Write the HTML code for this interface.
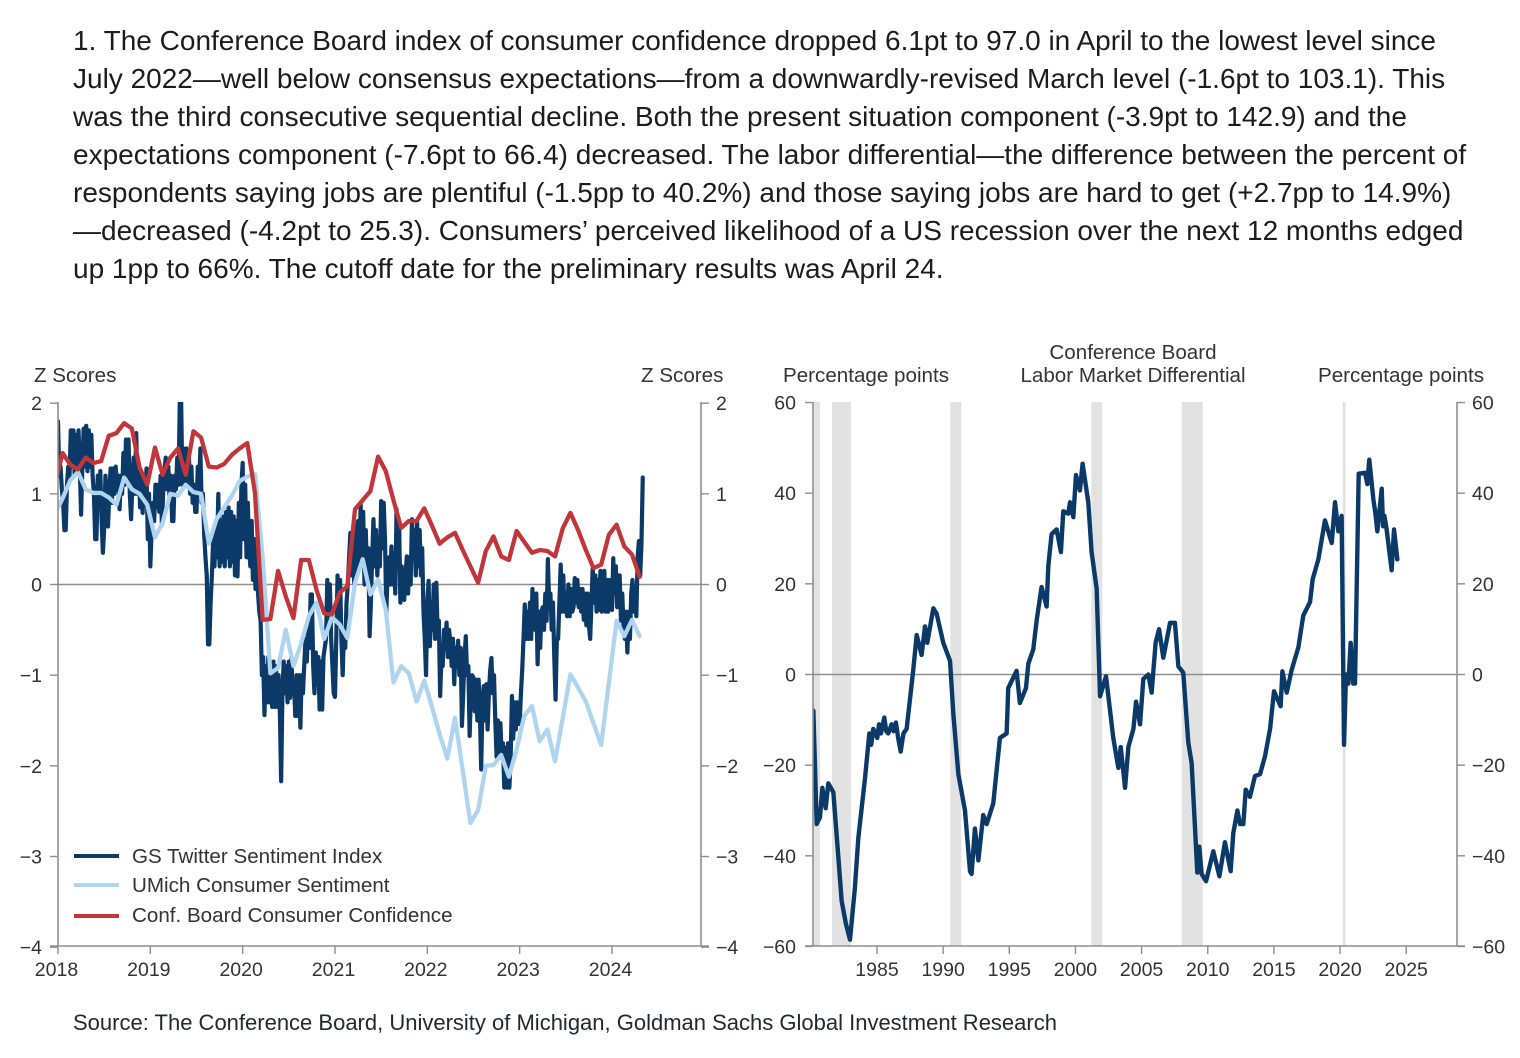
<!DOCTYPE html>
<html lang="en">
<head>
<meta charset="utf-8">
<title>Consumer confidence charts</title>
<style>
html,body{margin:0;padding:0;background:#fff;}
#page{position:relative;width:1520px;height:1058px;overflow:hidden;background:#fff;font-family:"Liberation Sans",sans-serif;}
.para{position:absolute;left:73px;white-space:nowrap;font-size:28px;line-height:38px;height:38px;color:#1c1c1e;}
#source{position:absolute;left:73px;top:1010px;white-space:nowrap;font-size:22px;line-height:26px;color:#24282d;}
#charts{position:absolute;left:0;top:0;}
svg text{font-family:"Liberation Sans",sans-serif;font-size:19.5px;fill:#333;}
svg text.title{font-size:20.6px;}
</style>
</head>
<body>
<div id="page">
  <div class="para" style="top:22px">1. The Conference Board index of consumer confidence dropped 6.1pt to 97.0 in April to the lowest level since</div>
  <div class="para" style="top:60px">July 2022—well below consensus expectations—from a downwardly-revised March level (-1.6pt to 103.1). This</div>
  <div class="para" style="top:98px">was the third consecutive sequential decline. Both the present situation component (-3.9pt to 142.9) and the</div>
  <div class="para" style="top:136px">expectations component (-7.6pt to 66.4) decreased. The labor differential—the difference between the percent of</div>
  <div class="para" style="top:174px">respondents saying jobs are plentiful (-1.5pp to 40.2%) and those saying jobs are hard to get (+2.7pp to 14.9%)</div>
  <div class="para" style="top:212px">—decreased (-4.2pt to 25.3). Consumers’ perceived likelihood of a US recession over the next 12 months edged</div>
  <div class="para" style="top:250px">up 1pp to 66%. The cutoff date for the preliminary results was April 24.</div>

  <svg id="charts" width="1520" height="1058" viewBox="0 0 1520 1058" xmlns="http://www.w3.org/2000/svg">
    <defs>
      <clipPath id="clip-left"><rect x="58" y="402" width="643" height="544"/></clipPath>
      <clipPath id="clip-right"><rect x="813" y="402" width="644" height="544"/></clipPath>
    </defs>
    <g id="left-chart">
      <text class="title" x="34" y="382">Z Scores</text>
      <text class="title" x="641" y="382">Z Scores</text>
    </g>
    <g id="right-chart">
      <text class="title" x="866" y="382" text-anchor="middle">Percentage points</text>
      <text class="title" x="1133" y="359" text-anchor="middle">Conference Board</text>
      <text class="title" x="1133" y="382" text-anchor="middle">Labor Market Differential</text>
      <text class="title" x="1401" y="382" text-anchor="middle">Percentage points</text>
    </g>
    <g id="legend">
      <line x1="74" x2="119" y1="856" y2="856" stroke="#0b3a68" stroke-width="4"/>
      <text class="title" x="132" y="863">GS Twitter Sentiment Index</text>
      <line x1="74" x2="119" y1="885" y2="885" stroke="#aed4f0" stroke-width="4"/>
      <text class="title" x="132" y="892">UMich Consumer Sentiment</text>
      <line x1="74" x2="119" y1="916" y2="916" stroke="#c0363a" stroke-width="4"/>
      <text class="title" x="132" y="922">Conf. Board Consumer Confidence</text>
    </g>
  </svg>

  <div id="source">Source: The Conference Board, University of Michigan, Goldman Sachs Global Investment Research</div>
</div>

<script>
const zScoreTicks = [2, 1, 0, -1, -2, -3, -4];
const sentimentYearTicks = [2018, 2019, 2020, 2021, 2022, 2023, 2024];
const pointTicks = [60, 40, 20, 0, -20, -40, -60];
const differentialYearTicks = [1985, 1990, 1995, 2000, 2005, 2010, 2015, 2020, 2025];

// GS Twitter index: six readings per month from Jan 2018
const twitterValues = [
  1.8,1.2,1.3,1.05,.9,.6, .6,1.1,1.3,1.2,1.7,1.3, 1.7,1.2,1.65,1.25,1.7,1.3,
  .77,1.3,1.72,1.3,1.75,1.25, 1.7,1.3,1.65,1.2,1.0,.5, .5,1.2,.9,1.25,.7,.35,
  .6,1.2,.95,.64,1.0,1.28, .9,1.28,1.0,1.3,1.05,1.2, .83,1.2,1.0,1.45,1.1,1.6,
  1.2,1.6,1.0,.72,1.1,1.4, 1.0,1.67,1.0,1.3,.85,1.2, .79,1.2,.9,1.28,.5,1.0,
  .2,.6,.9,.7,1.1,.85, 1.1,.8,1.2,.66,1.0,1.25, 1.4,1.05,1.3,.95,1.2,.7,
  .7,1.2,1.05,1.4,1.1,2.05, 2.05,1.1,1.5,1.1,1.5,1.1, 1.45,1.0,1.3,.9,1.1,.8,
  .8,1.3,1.0,1.5,.9,1.0, .55,.3,.1,-.66,-.66,-.2, .1,.5,.2,.6,.3,1.0,
  .2,.7,.25,.75,.2,.8, .3,.85,.2,.8,.25,.75, .1,.7,.09,.9,.3,1.1,
  1.34,.5,1.1,.3,.9,.4, .2,.7,.05,.5,-.05,.3, -.1,-.3,-.4,-1.0,-.8,-1.44,
  -.9,-1.3,-.8,-1.3,-1.0,-1.35, -.85,-1.35,-.9,-1.35,-1.0,-1.4, -2.17,-1.2,-.85,-1.2,-.9,-1.3,
  -.85,-1.25,-.8,-1.2,-1.05,-1.45, -1.0,-1.45,-1.0,-1.58,-1.0,-1.2, -.9,-.6,-.85,-.5,-.7,-.11,
  -.11,-.9,-1.2,-.75,-1.1,-.8, -1.38,-.85,-1.38,-.8,-.7,-.6, .05,-.5,0,-.6,-.9,-1.2,
  -1.24,-.6,.1,-.4,.05,-.6, -1.0,-.5,-.7,-.2,0,.3, .57,.1,.5,0,.65,.1,
  .7,.2,.88,.3,.8,0, .6,.1,.4,-.57,-.2,.3, .72,.2,.6,.1,.5,.2,
  .92,.4,.9,.5,-.31,.1, .3,0,.42,0,.3,-.1, .83,.2,.7,-.2,.2,-.1,
  -.17,.1,.31,-.1,.3,0, .72,.3,.6,.1,.7,.2, .6,.1,.4,-.3,-.6,-1.0,
  -.2,.04,-.68,-.2,-.5,0, -.6,.02,-.5,-.4,-1.23,-.8, -.9,-.5,-.7,-.42,-.8,-.5,
  -.65,-.9,-.6,-1.1,-.7,-.9, -.62,-1.0,-.7,-1.56,-1.2,-.8, -.57,-1.0,-.9,-1.67,-1.2,-1.0,
  -1.03,-1.4,-1.05,-1.5,-1.05,-1.4, -2.04,-1.3,-1.12,-1.5,-1.1,-1.6, -1.2,-.95,-.81,-1.2,-1.0,-1.5,
  -1.9,-1.5,-1.85,-1.53,-1.9,-1.75, -2.24,-1.8,-2.24,-1.75,-2.24,-1.9, -1.23,-1.7,-1.3,-1.6,-1.3,-1.5,
  -1.54,-1.2,-.94,-.6,-.22,-.6, -.3,-.6,-.2,-.6,-.05,-.4, -.5,-.1,-.88,-.3,-.7,-.3,
  -.25,-.5,-.1,-.4,.28,-.2, -.1,-.5,-.2,-.8,-1.27,-.6, -.6,-.2,.22,-.3,.1,-.3,
  -.1,-.35,0,-.35,-.05,-.3, -.25,.07,-.2,.05,-.25,-.05, -.3,-.05,-.39,-.1,-.45,-.1,
  -.45,-.6,-.2,.18,-.2,.1, -.3,.05,-.28,.15,-.3,0, .15,-.3,.05,-.3,.05,-.2,
  -.28,.29,-.1,.2,-.25,.1, .1,-.4,-.1,-.45,-.6,-.3, -.75,-.3,-.6,-.1,.05,-.3,
  -.1,-.35,.3,.48,.1,.45, 1.18
];

// Monthly series from Dec 2017
const umichValues = [
  .78,.95,1.15,1.24,1.05,1.01,1.01,.96,.88,1.18,1.05,1.0,.88,
  .52,.68,1.0,.98,1.1,1.02,1.0,.45,.72,.85,.98,1.14,
  1.19,1.22,.3,-.98,-.92,-.5,-.9,-.65,-.35,-.2,-.6,-.36,
  -.44,-.59,.02,.28,-.11,.055,-.28,-1.08,-.9,-.98,-1.29,-1.06,
  -1.35,-1.65,-1.92,-1.47,-2.05,-2.63,-2.49,-2.0,-1.99,-1.88,-2.12,-1.82,
  -1.45,-1.34,-1.73,-1.6,-1.95,-1.47,-.99,-1.14,-1.29,-1.53,-1.77,-1.08,
  -.4,-.57,-.39,-.57
];
const confBoardValues = [
  1.1,1.45,1.32,1.27,1.40,1.34,1.36,1.64,1.67,1.78,1.72,1.29,1.10,
  1.51,1.21,1.40,1.50,1.21,1.69,1.62,1.30,1.29,1.33,1.43,1.50,
  1.56,1.01,-.39,-.38,.15,-.13,-.37,.27,.27,-.06,-.32,-.33,
  -.09,-.02,.83,.93,1.03,1.41,1.25,.93,.625,.70,.70,.84,
  .65,.45,.52,.57,.38,.2,.02,.37,.53,.31,.27,.59,
  .47,.35,.38,.37,.31,.62,.79,.6,.38,.18,.22,.55,
  .66,.42,.33,.084
];

const differentialYears = [
  1980.19,1980.44,1980.69,1980.87,1981.12,1981.32,1981.7,1982.07,1982.33,1982.65,1982.96,1983.33,1983.59,
  1984.09,1984.42,1984.56,1984.72,1985.02,1985.15,1985.3,1985.55,1985.7,1985.85,1986.1,1986.25,1986.43,1986.6,1986.79,1987.0,1987.24,
  1987.74,1988,1988.37,1988.63,1988.8,1989.26,1989.51,1990.01,1990.52,1990.77,1991.15,1991.65,
  1992.03,1992.15,1992.4,1992.66,1993.03,1993.29,1993.79,1994.29,1994.8,1994.92,1995.55,1995.8,
  1996.26,1996.44,1996.81,1997.07,1997.44,1997.82,1997.95,1998.2,1998.58,1998.9,1999.08,1999.46,1999.59,
  1999.84,2000.04,2000.34,2000.54,2000.97,2001.22,2001.6,2001.86,2002.31,2002.86,2003.24,2003.42,2003.75,
  2004,2004.38,2004.58,2004.88,2005.13,2005.51,2005.76,2006.06,2006.32,2006.64,2007.15,2007.52,2007.78,
  2008.15,2008.53,2008.78,2009.04,2009.21,2009.36,2009.54,2009.87,2010.42,2010.88,2011.3,2011.73,2011.93,
  2012.24,2012.44,2012.69,2012.87,2013.19,2013.57,2013.95,2014.33,2014.71,2015.01,2015.51,2015.64,2015.97,
  2016.34,2016.85,2017.22,2017.73,2017.93,2018.36,2018.86,2019.37,2019.62,2019.87,2020.12,2020.3,
  2020.45,2020.63,2020.8,2021,2021.13,2021.41,2021.89,2022.06,2022.21,2022.52,2022.67,2022.82,2023.15,2023.25,2023.35,2023.52,2023.9,2024.08,2024.33
];
const differentialValues = [
  -8,-33,-31.5,-25,-29.5,-24,-26,-40,-50,-55,-58.5,-47,-36,
  -23,-13,-15.5,-12,-14,-11,-13,-9.5,-12.5,-13,-11,-12.5,-10.6,-14,-17,-13,-12,
  1,8.7,4.3,10.6,7,14.6,13.4,7,3,-8.7,-22,-30,
  -43.4,-44,-34,-41,-31,-33,-28.4,-14,-13,-3,.8,-6.3,
  -3,2.4,5.5,12,19.3,15,24,31,32,27,36,35.5,38,
  34.7,44,40.6,46.5,38,27,19,-4.8,-.4,-14,-20.6,-16,-25,
  -16,-12,-6,-11,-1,0,-4,7,10,3.7,11.4,11.4,1.8,
  .4,-15,-19.5,-34,-43.7,-38,-44,-45.6,-39,-44.5,-37,-43.4,-35,
  -30,-33,-33,-25.4,-27,-22.4,-22,-18,-12,-3.7,-7,.7,-4,
  1,6,13,16,21,25.4,34,29,38,31.6,35,-15.5,
  0,-2,7,-2,-2,44.3,44.5,42,47.4,38.6,35.6,31.6,41,32.7,35,32,23,32,25.4
];
const recessionStarts = [1980.0,1981.6,1990.54,2001.2,2008.03,2020.2];
const recessionEnds = [1980.7,1983.03,1991.37,2002.03,2009.62,2020.42];

const SVG_NS = 'http://www.w3.org/2000/svg';
const AXIS_COLOR = '#8f8f8f';

const zScoreY = v => 584.5 - v * 90.67;
const sentimentX = t => 58 + (t - 2018) * 92.33;
const pointsY = v => 674.5 - v * 4.533;
const differentialX = t => 877 + (t - 1985) * 13.23;
const monthlyYear = i => 2018 + (i - 0.4) / 12;
const twitterYear = i => 2018 + i / 72;
const formatTick = v => String(v).replace('-', '−');

function makeLine(parent, x1, y1, x2, y2, width) {
  const el = document.createElementNS(SVG_NS, 'line');
  el.setAttribute('x1', x1);
  el.setAttribute('y1', y1);
  el.setAttribute('x2', x2);
  el.setAttribute('y2', y2);
  el.setAttribute('stroke', AXIS_COLOR);
  el.setAttribute('stroke-width', width);
  parent.appendChild(el);
  return el;
}
function makeLabel(parent, x, y, anchor, content) {
  const el = document.createElementNS(SVG_NS, 'text');
  el.setAttribute('x', x);
  el.setAttribute('y', y);
  el.setAttribute('text-anchor', anchor);
  el.textContent = content;
  parent.appendChild(el);
  return el;
}
function makeSeries(parent, xs, ys, color, width, clip) {
  const el = document.createElementNS(SVG_NS, 'polyline');
  el.setAttribute('points', xs.map((x, i) => x.toFixed(2) + ',' + ys[i].toFixed(2)).join(' '));
  el.setAttribute('fill', 'none');
  el.setAttribute('stroke', color);
  el.setAttribute('stroke-width', width);
  el.setAttribute('stroke-linejoin', 'round');
  el.setAttribute('stroke-linecap', 'round');
  el.setAttribute('clip-path', 'url(#' + clip + ')');
  parent.appendChild(el);
  return el;
}

const leftChart = document.getElementById('left-chart');
const rightChart = document.getElementById('right-chart');

/* ---------- sentiment chart ---------- */
const leftZero = makeLine(leftChart, 58, zScoreY(0), 701, zScoreY(0), 1.6);



const twitterLine = makeSeries(leftChart, twitterValues.map((v, i) => sentimentX(twitterYear(i))), twitterValues.map(zScoreY), '#0b3a68', 4.2, 'clip-left');



const umichLine = makeSeries(leftChart, umichValues.map((v, i) => sentimentX(monthlyYear(i))), umichValues.map(zScoreY), '#aed4f0', 4.3, 'clip-left');



const confLine = makeSeries(leftChart, confBoardValues.map((v, i) => sentimentX(monthlyYear(i))), confBoardValues.map(zScoreY), '#c0363a', 4.3, 'clip-left');



const leftAxisA = makeLine(leftChart, 58, 402, 58, 946, 1.6);


const leftAxisB = makeLine(leftChart, 701, 402, 701, 946, 1.6);


const leftAxisX = makeLine(leftChart, 50, 946, 709, 946, 1.6);



zScoreTicks.forEach(v => {
  const y = zScoreY(v);
  const tickL = makeLine(leftChart, 50, y, 58, y, 1.4);
  
  
  const tickR = makeLine(leftChart, 701, y, 709, y, 1.4);
  
  
  const labelL = makeLabel(leftChart, 42, y + 7, 'end', formatTick(v));
  
  
  const labelR = makeLabel(leftChart, 716, y + 7, 'start', formatTick(v));
  
  
});
sentimentYearTicks.forEach(t => {
  const x = sentimentX(t);
  const tick = makeLine(leftChart, x, 946, x, 954, 1.4);
  
  
  const label = makeLabel(leftChart, x - 1.5, 976, 'middle', String(t));
  
  
});

/* ---------- labor differential chart ---------- */
recessionStarts.forEach((start, i) => {
  const band = document.createElementNS(SVG_NS, 'rect');
  band.setAttribute('x', differentialX(start));
  band.setAttribute('y', 402);
  band.setAttribute('width', differentialX(recessionEnds[i]) - differentialX(start));
  band.setAttribute('height', 544);
  band.setAttribute('fill', '#e2e2e2');
  band.setAttribute('clip-path', 'url(#clip-right)');
  
  
  rightChart.appendChild(band);
});

const rightZero = makeLine(rightChart, 813, pointsY(0), 1457, pointsY(0), 1.4);



const differentialLine = makeSeries(rightChart, differentialYears.map(differentialX), differentialValues.map(pointsY), '#0b3a68', 4.4, 'clip-right');



const rightAxisA = makeLine(rightChart, 813, 402, 813, 946, 1.6);


const rightAxisB = makeLine(rightChart, 1457, 402, 1457, 946, 1.6);


const rightAxisX = makeLine(rightChart, 805, 946, 1465, 946, 1.6);



pointTicks.forEach(v => {
  const y = pointsY(v);
  const tickL = makeLine(rightChart, 805, y, 813, y, 1.4);
  
  
  const tickR = makeLine(rightChart, 1457, y, 1465, y, 1.4);
  
  
  const labelL = makeLabel(rightChart, 796, y + 7, 'end', formatTick(v));
  
  
  const labelR = makeLabel(rightChart, 1472, y + 7, 'start', formatTick(v));
  
  
});
differentialYearTicks.forEach(t => {
  const x = differentialX(t);
  const tick = makeLine(rightChart, x, 946, x, 954, 1.4);
  
  
  const label = makeLabel(rightChart, x, 976, 'middle', String(t));
  
  
});
</script>
</body>
</html>
